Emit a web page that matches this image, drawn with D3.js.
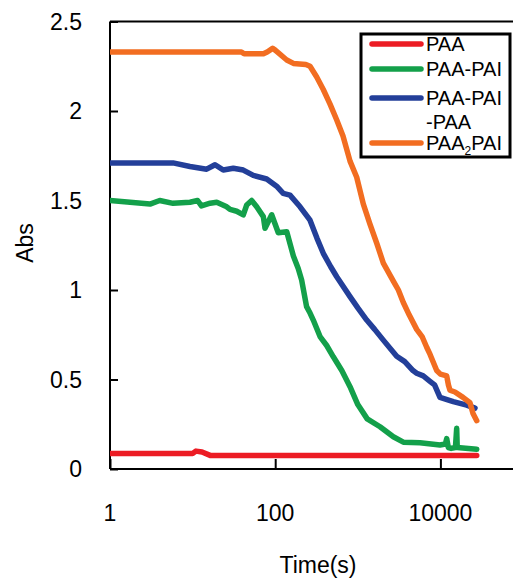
<!DOCTYPE html>
<html>
<head>
<meta charset="utf-8">
<script src="https://cdn.jsdelivr.net/npm/d3@7"></script>
<style>
  body { margin: 0; background: #fff; }
  svg { display: block; font-family: Arial, "Liberation Sans", sans-serif; }
</style>
</head>
<body>
<div id="chart"></div>
<script>
// Absorbance vs time: [time (s), Abs]
const paa = [[1,0.087],[10,0.087],[11,0.10],[13,0.095],[16.3,0.076],[27540,0.075]];

const paaPai = [[1,1.50],[3.05,1.48],[4.0,1.50],[5.8,1.484],[9.3,1.49],[11.5,1.50],[12.8,1.47],[16.3,1.485],
  [19.6,1.49],[25.9,1.465],[28.4,1.45],[34.2,1.44],[41.1,1.42],[45.2,1.475],[51.9,1.50],[59.7,1.465],
  [71.8,1.41],[75.3,1.345],[90.7,1.42],[109,1.32],[138,1.325],[166,1.19],[190,1.12],[209,1.056],[240,0.907],
  [265,0.87],[289,0.832],[349,0.74],[420,0.69],[505,0.627],[640,0.55],[805,0.46],[1000,0.36],[1300,0.28],
  [1857,0.236],[2692,0.18],[3557,0.15],[5663,0.147],[9890,0.134],[11500,0.14],[11920,0.17],[12470,0.12],
  [13500,0.115],[15200,0.12],[15740,0.227],[16000,0.12],[27540,0.11]];

const paaPaiPaa = [[1,1.71],[5.8,1.71],[9.3,1.69],[14.8,1.675],[18.7,1.70],[23.5,1.67],[31.1,1.68],
  [41.1,1.67],[54.3,1.64],[78.9,1.62],[104,1.58],[125,1.54],[151,1.53],[200,1.465],[264,1.39],
  [320,1.29],[382,1.205],[470,1.13],[556,1.074],[805,0.963],[1000,0.90],[1282,0.832],[1600,0.78],
  [2037,0.72],[2958,0.63],[3700,0.60],[4660,0.55],[5163,0.535],[6200,0.52],[7482,0.49],[8500,0.47],
  [9890,0.40],[14320,0.376],[20800,0.357],[26240,0.34]];

const paa2Pai = [[1,2.33],[39,2.33],[42,2.32],[72,2.32],[80,2.33],[93,2.35],[100,2.34],[138,2.285],
  [166,2.266],[235,2.26],[264,2.25],[318,2.19],[382,2.12],[460,2.04],[556,1.95],[662,1.86],[805,1.72],
  [970,1.63],[1167,1.48],[1400,1.37],[1700,1.26],[2037,1.15],[2692,1.05],[3100,1.00],[3557,0.93],
  [4200,0.86],[5163,0.78],[6000,0.74],[6823,0.68],[7500,0.64],[9020,0.55],[10000,0.53],[11920,0.52],
  [12500,0.47],[13060,0.44],[15000,0.43],[18780,0.40],[22810,0.37],[24820,0.31],[27540,0.27]];

const seriesNames = ['PAA', 'PAA-PAI', 'PAA-PAI', 'PAA2PAI'];
const seriesColors = ['#ec1c24', '#13a04a', '#233f99', '#f26d21'];
const xTicks = [1, 100, 10000];
const yTicks = [0, 0.5, 1, 1.5, 2, 2.5];

const width = 513, height = 580;
const margin = { top: 21.5, left: 110, bottom: 111 };

const svg = d3.select('#chart').append('svg')
  .attr('width', width)
  .attr('height', height);

const x = d3.scaleLog().domain([1, 100000]).range([margin.left, margin.left + 5 * 82.6]);
const y = d3.scaleLinear().domain([0, 2.5]).range([height - margin.bottom, margin.top]);

svg.append('defs').append('clipPath').attr('id', 'plotClip')
  .append('rect')
  .attr('x', x(1)).attr('y', y(2.5))
  .attr('width', width - x(1)).attr('height', y(0) - y(2.5));

// frame top line
svg.append('line')
  .attr('x1', x(1)).attr('x2', width + 5)
  .attr('y1', y(2.5)).attr('y2', y(2.5))
  .attr('stroke', '#000').attr('stroke-width', 2);

// y axis (ticks inward)
const yAxis = svg.append('g')
  .attr('transform', `translate(${x(1)},0)`)
  .call(d3.axisRight(y).tickValues(yTicks).tickSize(8).tickFormat(''));
yAxis.select('.domain').attr('stroke-width', 2).attr('d', `M0,${y(2.5)}V${y(0)}`);
yAxis.selectAll('.tick line').attr('stroke-width', 2);

svg.append('g').selectAll('text')
  .data(yTicks)
  .enter().append('text')
  .attr('x', x(1) - 28)
  .attr('y', d => y(d) + 8)
  .attr('text-anchor', 'end')
  .style('font-size', '23px')
  .text(d => d);

// x axis (ticks inward)
const xAxis = svg.append('g')
  .attr('transform', `translate(0,${y(0)})`)
  .call(d3.axisTop(x).tickValues(xTicks).tickSize(10).tickFormat(''));
xAxis.select('.domain').attr('stroke-width', 2).attr('d', `M${x(1)},0H${width + 5}`);
xAxis.selectAll('.tick line').attr('stroke-width', 2);

svg.append('g').selectAll('text')
  .data(xTicks)
  .enter().append('text')
  .attr('x', d => x(d))
  .attr('y', 521)
  .attr('text-anchor', 'middle')
  .style('font-size', '23px')
  .text(d => d);

svg.append('text')
  .attr('x', 318).attr('y', 573)
  .attr('text-anchor', 'middle')
  .style('font-size', '23px')
  .text('Time(s)');

svg.append('text')
  .attr('transform', 'translate(33,243) rotate(-90)')
  .attr('text-anchor', 'middle')
  .style('font-size', '23px')
  .text('Abs');

// curves
const line = d3.line()
  .x(d => x(d[0]))
  .y(d => y(d[1]));

const allSeries = [paa, paaPai, paaPaiPaa, paa2Pai];
svg.append('g')
  .attr('clip-path', 'url(#plotClip)')
  .selectAll('path')
  .data(allSeries)
  .enter().append('path')
  .attr('d', line)
  .attr('fill', 'none')
  .attr('stroke', (d, i) => seriesColors[i])
  .attr('stroke-width', 5.5)
  .attr('stroke-linejoin', 'round')
  .attr('stroke-linecap', 'round');

// legend
const legend = svg.append('g');
legend.append('rect')
  .attr('x', 361).attr('y', 34)
  .attr('width', 149).attr('height', 123)
  .attr('fill', '#fff')
  .attr('stroke', '#000')
  .attr('stroke-width', 3);

const legendRows = [44, 69, 98, 143];
legendRows.forEach((ly, i) => {
  legend.append('line')
    .attr('x1', 372).attr('x2', 421)
    .attr('y1', ly).attr('y2', ly)
    .attr('stroke', seriesColors[i])
    .attr('stroke-width', 5.5)
    .attr('stroke-linecap', 'round');
});

const legendText = legend.append('g').style('font-size', '20px');
legendText.append('text').attr('x', 426).attr('y', ly(0)).text('PAA');
legendText.append('text').attr('x', 426).attr('y', ly(1)).text('PAA-PAI');
legendText.append('text').attr('x', 426).attr('y', ly(2)).text('PAA-PAI');
legendText.append('text').attr('x', 426).attr('y', 129).text('-PAA');
const t4 = legendText.append('text').attr('x', 426).attr('y', ly(3));
t4.append('tspan').text('PAA');
t4.append('tspan').attr('dy', 5).style('font-size', '12px').text('2');
t4.append('tspan').attr('dy', -5).text('PAI');

function ly(i) { return legendRows[i] + 7; }
</script>
</body>
</html>
